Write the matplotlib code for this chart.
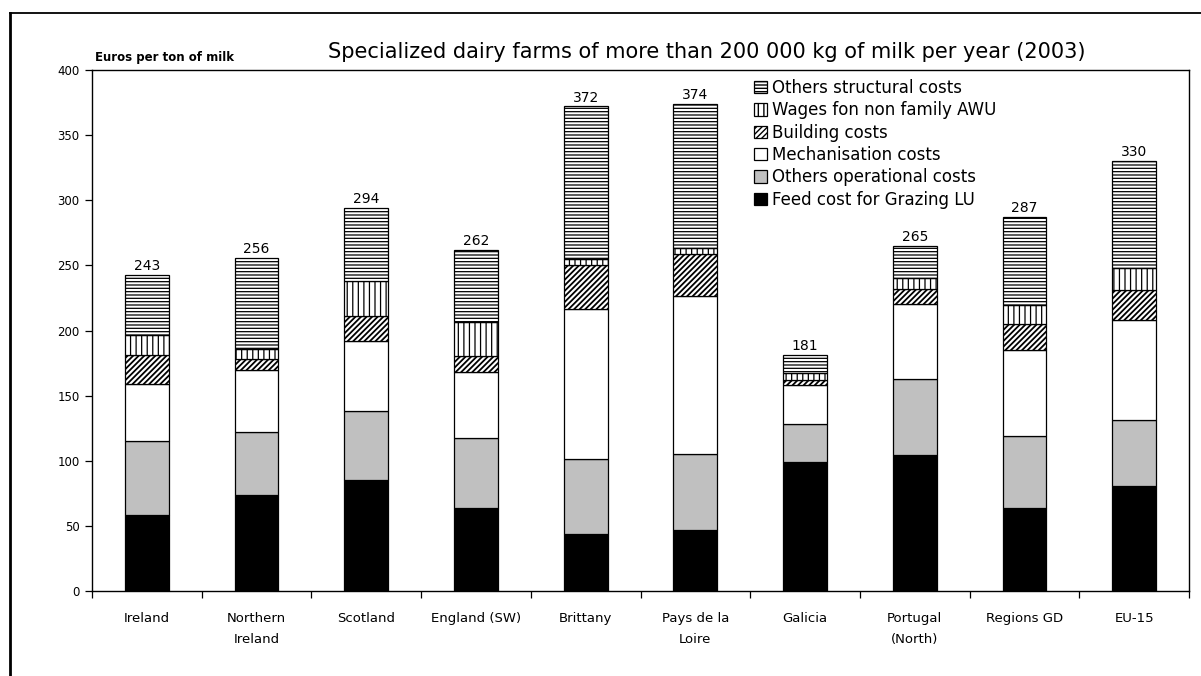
import numpy as np
import matplotlib
matplotlib.use("Agg")
import matplotlib.pyplot as plt
from matplotlib.lines import Line2D

categories = ["Ireland", "Northern\nIreland", "Scotland", "England (SW)", "Brittany",
              "Pays de la\nLoire", "Galicia", "Portugal\n(North)", "Regions GD", "EU-15"]

feed = [58, 74, 85, 63.5, 43.5, 46.6, 98.8, 104.4, 63.7, 80.4]
operational = [57, 48, 53, 54, 58, 58.6, 29.4, 58.1, 55.3, 50.9]
mechanisation = [44, 48, 54.3, 50.4, 114.7, 121.5, 29.7, 58.1, 65.8, 76.5]
building = [22, 8.5, 19.2, 12.3, 34, 32.3, 4.4, 11.5, 20.2, 23.3]
wages = [15.5, 7, 26.8, 26.1, 4.4, 4.6, 4.8, 8, 14.8, 16.6]
structural = [46, 70.5, 55.5, 55.5, 117.4, 110.4, 14.1, 24.8, 67.2, 82.4]
totals = [243, 256, 294, 262, 372, 374, 181, 265, 287, 330]

series_names = ["Feed cost for Grazing LU", "Others operational costs", "Mechanisation costs",
                "Building costs", "Wages fon non family AWU", "Others structural costs"]

plt.rcParams['font.family'] = ['DejaVu Sans']

W, H = 1201, 676
fig = plt.figure(figsize=(W / 100, H / 100), dpi=100)

# outer frame lines
fig.add_artist(Line2D([10 / W, 1.0], [1 - 12.5 / H, 1 - 12.5 / H], color='black', lw=1.3))
fig.add_artist(Line2D([10 / W, 10 / W], [0, 1 - 12.5 / H], color='black', lw=2.0))

ax = fig.add_axes([92 / W, 85 / H, 1097 / W, 521 / H])

x = np.arange(len(categories))
series = [feed, operational, mechanisation, building, wages, structural]
colors = ['black', '#C0C0C0', 'white', 'white', 'white', 'white']
hatches = [None, None, None, '//////', '|||', '-----']
hatch_lw = [0.9, 0.9, 0.9, 1.3, 0.9, 0.9]

bottom = np.zeros(len(categories))
containers = []
for vals, name, c, h, hl in zip(series, series_names, colors, hatches, hatch_lw):
    vals = np.array(vals, dtype=float)
    with plt.rc_context({'hatch.linewidth': hl}):
        bc = ax.bar(x, vals, 0.4, bottom=bottom, color=c, edgecolor='black', hatch=h,
                    linewidth=0.9, label=name, zorder=2)
    containers.append(bc)
    bottom += vals

for i, t in enumerate(totals):
    ax.text(x[i], bottom[i] + 1.5, str(t), ha='center', va='bottom', fontsize=10)

ax.set_xlim(-0.5, len(categories) - 0.5)
ax.set_ylim(0, 400)
ax.set_yticks(np.arange(0, 401, 50))
ax.tick_params(axis='y', direction='out', length=5, width=0.9, labelsize=8.5, pad=4)

ax.set_xticks(np.arange(-0.5, len(categories), 1))
ax.set_xticklabels([])
ax.tick_params(axis='x', which='major', direction='out', length=5, width=0.9)
ax.set_xticks(x, minor=True)
ax.set_xticklabels(categories, minor=True, fontsize=9.5, linespacing=1.8)
ax.tick_params(axis='x', which='minor', length=0, pad=15)

for s in ax.spines.values():
    s.set_linewidth(1.0)

with plt.rc_context({'hatch.linewidth': 1.0}):
    leg = ax.legend(handles=containers[::-1], labels=series_names[::-1], loc='upper left',
                    bbox_to_anchor=(754 / W, 1 - 79 / H), bbox_transform=fig.transFigure,
                    frameon=False, fontsize=12, handlelength=0.75, handleheight=0.75,
                    handletextpad=0.35, labelspacing=0.26, borderpad=0, borderaxespad=0)

fig.text(707 / W, 1 - 52 / H,
         "Specialized dairy farms of more than 200 000 kg of milk per year (2003)",
         ha='center', va='center', fontsize=15)
fig.text(95 / W, 1 - 57 / H, "Euros per ton of milk", ha='left', va='center',
         fontsize=8.5, fontweight='bold')

fig.savefig("out.png", dpi=100)
